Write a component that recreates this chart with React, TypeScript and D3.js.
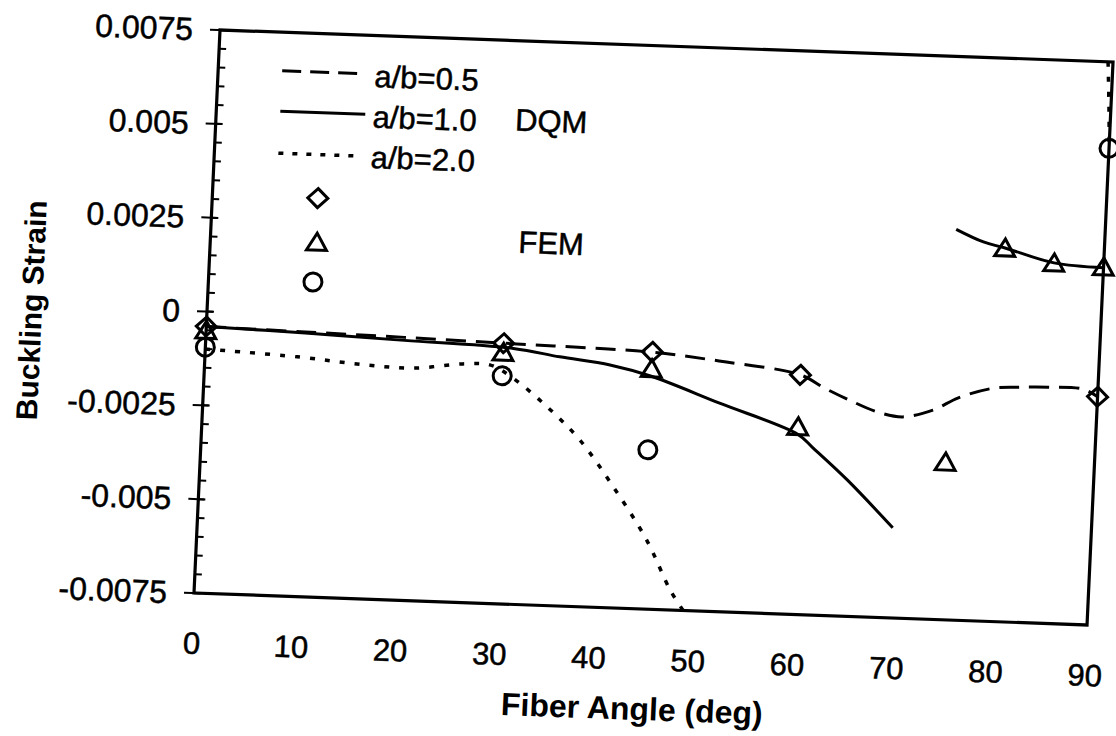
import React from "react";
import * as d3 from "d3";

// ---- axis ticks ----
const xTickValues = [0, 10, 20, 30, 40, 50, 60, 70, 80, 90];
const xTickLabels = ["0", "10", "20", "30", "40", "50", "60", "70", "80", "90"];
const yTickValues = [0.0075, 0.005, 0.0025, 0, -0.0025, -0.005, -0.0075];
const yTickLabels = ["0.0075", "0.005", "0.0025", "0", "-0.0025", "-0.005", "-0.0075"];

// ---- DQM curves ----
// a/b = 0.5 (dashed)
const dqm05X = [0, 10, 20, 30, 37.5, 45, 52.5, 60, 62.5, 65, 68, 70.5, 73.5, 76, 79.5, 82, 85, 88.5, 90];
const dqm05Y = [-0.0004, -0.00045, -0.0005, -0.00056, -0.0006, -0.00066, -0.00085, -0.00112, -0.00145, -0.00174, -0.00204, -0.00214, -0.00193, -0.00158, -0.00129, -0.00124, -0.00121, -0.00123, -0.00142];
// a/b = 1.0 (solid), two branches
const dqm10aX = [0, 10, 20, 31, 35.7, 40.8, 45, 52, 60, 61.6, 65.2, 70];
const dqm10aY = [-0.0004, -0.00048, -0.00058, -0.00069, -0.00087, -0.00104, -0.0013, -0.00195, -0.0027, -0.00305, -0.00387, -0.0051];
const dqm10bX = [75, 77.8, 80, 85, 90];
const dqm10bY = [0.0029, 0.00259, 0.00245, 0.0021, 0.00202];
// a/b = 2.0 (dotted), two branches
const dqm20aX = [0, 9.3, 16.3, 21, 26, 28.7, 31.1, 34.7, 38.1, 41.7, 45.3, 47.9, 49.3];
const dqm20aY = [-0.001, -0.00112, -0.00127, -0.00131, -0.00115, -0.00115, -0.00148, -0.00222, -0.00306, -0.00428, -0.00566, -0.00697, -0.0075];
const dqm20bX = [89.5, 89.8, 90];
const dqm20bY = [0.0075, 0.0063, 0.0053];

// ---- FEM points ----
const fem05X = [0, 30, 45, 60, 90];
const fem05Y = [-0.0004, -0.00056, -0.00065, -0.00112, -0.00142];
const fem10X = [0, 30, 45, 60, 75, 80, 85, 90];
const fem10Y = [-0.0005, -0.0008, -0.0011, -0.0025, -0.0033, 0.00245, 0.0021, 0.00204];
const fem20X = [0, 30, 45, 90];
const fem20Y = [-0.00095, -0.00143, -0.00326, 0.0052];

const legendLabels = ["a/b=0.5", "a/b=1.0", "a/b=2.0"];
const methodLabels = ["DQM", "FEM"];
const xTitle = "Fiber Angle (deg)";
const yTitle = "Buckling Strain";

const W = 893.6;
const H = 563.6;
const FONT = "'Liberation Sans', Arial, Helvetica, sans-serif";

const zip = (xs: number[], ys: number[]) => xs.map((v, i) => [v, ys[i]] as [number, number]);

const diamondPath = "M0,-9.5 L10,0 L0,9.5 L-10,0 Z";
const trianglePath = "M0,-9 L10,8 L-10,8 Z";

export default function App() {
  const x = d3.scaleLinear().domain([0, 90]).range([0, W]);
  const y = d3.scaleLinear().domain([-0.0075, 0.0075]).range([H, 0]);
  const line = d3
    .line<[number, number]>()
    .x((d) => x(d[0]))
    .y((d) => y(d[1]))
    .curve(d3.curveCatmullRom.alpha(0.5));

  const minorTicks = d3.range(-0.0075, 0.0075 + 1e-9, 0.0005);
  const lw = 3;
  const ts = { stroke: "#000", strokeWidth: 0.5 };

  return (
    <svg
      width={1116}
      height={736}
      style={{ position: "absolute", left: 0, top: 0, background: "#fff" }}
    >
      <rect width={1116} height={736} fill="#fff" />
      <g transform="matrix(0.99936,0.03581,-0.04613,0.99893,220,30)" fontFamily={FONT}>
        <defs>
          <clipPath id="plotClip">
            <rect x={0} y={0} width={W} height={H} />
          </clipPath>
        </defs>

        {/* curves */}
        <g clipPath="url(#plotClip)" fill="none" stroke="#000">
          <path d={line(zip(dqm05X, dqm05Y)) || ""} strokeWidth={lw} strokeDasharray="20,10" />
          <path d={line(zip(dqm10aX, dqm10aY)) || ""} strokeWidth={lw} />
          <path d={line(zip(dqm10bX, dqm10bY)) || ""} strokeWidth={lw} />
          <path d={line(zip(dqm20aX, dqm20aY)) || ""} strokeWidth={3.5} strokeDasharray="5,10" />
          <path d={line(zip(dqm20bX, dqm20bY)) || ""} strokeWidth={3.5} strokeDasharray="5,10" />
        </g>

        {/* frame */}
        <rect x={0} y={0} width={W} height={H} fill="none" stroke="#000" strokeWidth={3.2} />

        {/* y ticks */}
        {minorTicks.map((t, i) => (
          <line key={"m" + i} x1={0} x2={7} y1={y(t)} y2={y(t)} stroke="#000" strokeWidth={2} />
        ))}
        {yTickValues.map((t, i) => (
          <line key={"M" + i} x1={-10} x2={6} y1={y(t)} y2={y(t)} stroke="#000" strokeWidth={2} />
        ))}
        {yTickValues.map((t, i) => (
          <text key={"yl" + i} x={-27} y={y(t) + 11} fontSize={32} textAnchor="end" {...ts}>
            {yTickLabels[i]}
          </text>
        ))}

        {/* x tick labels */}
        {xTickValues.map((t, i) => (
          <text key={"xl" + i} x={x(t)} y={H + 61} fontSize={31} textAnchor="middle" {...ts}>
            {xTickLabels[i]}
          </text>
        ))}

        {/* axis titles */}
        <text x={W / 2 - 4} y={H + 111} fontSize={32} fontWeight="bold" textAnchor="middle">
          {xTitle}
        </text>
        <text
          transform={`translate(-165,${H / 2 + 5}) rotate(-90)`}
          fontSize={30}
          fontWeight="bold"
          textAnchor="middle"
        >
          {yTitle}
        </text>

        {/* FEM markers */}
        <g fill="none" stroke="#000" strokeWidth={3}>
          {fem05X.map((v, i) => (
            <path key={"d" + i} d={diamondPath} transform={`translate(${x(v)},${y(fem05Y[i])})`} />
          ))}
          {fem10X.map((v, i) => (
            <path key={"t" + i} d={trianglePath} transform={`translate(${x(v)},${y(fem10Y[i])})`} />
          ))}
          {fem20X.map((v, i) => (
            <circle key={"c" + i} cx={x(v)} cy={y(fem20Y[i])} r={9} />
          ))}
        </g>

        {/* legend */}
        <g stroke="#000" fill="none">
          <line x1={64} x2={139} y1={38.5} y2={38.5} strokeWidth={lw} strokeDasharray="19,9" />
          <line x1={64} x2={149} y1={79} y2={79} strokeWidth={lw} />
          <line x1={64} x2={148} y1={121} y2={121} strokeWidth={3.5} strokeDasharray="5,9" />
        </g>
        {legendLabels.map((l, i) => (
          <text key={"lg" + i} x={156.5} y={51.5 + i * 40.5} fontSize={31} {...ts}>
            {l}
          </text>
        ))}
        <text x={299} y={90} fontSize={31} {...ts}>
          {methodLabels[0]}
        </text>
        <g fill="none" stroke="#000" strokeWidth={3}>
          <path d={diamondPath} transform="translate(105.5,164.5)" />
          <path d={trianglePath} transform="translate(106.5,208.5)" />
          <circle cx={104.5} cy={248.5} r={9} />
        </g>
        <text x={308} y={212} fontSize={31} {...ts}>
          {methodLabels[1]}
        </text>
      </g>
    </svg>
  );
}
